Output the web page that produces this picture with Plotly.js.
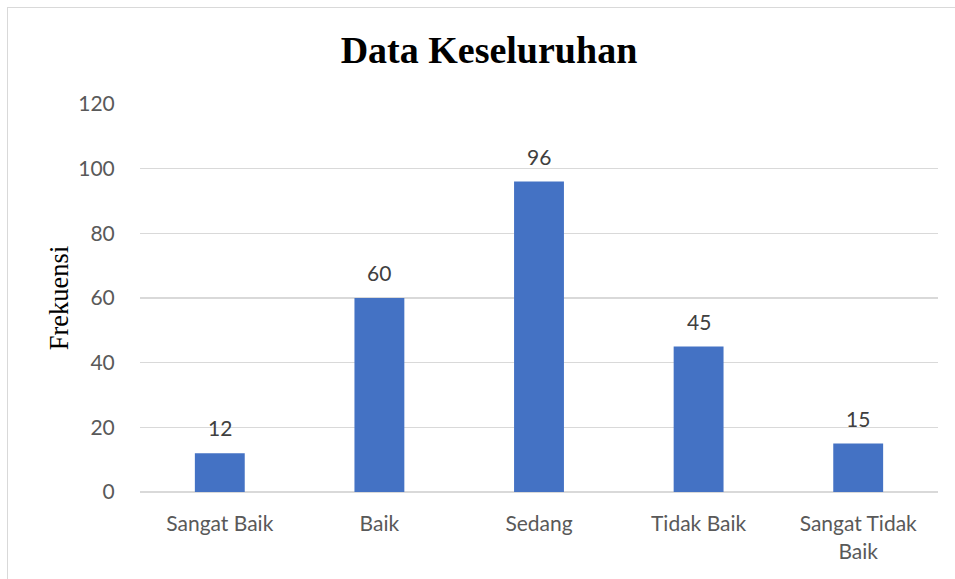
<!DOCTYPE html>
<html>
<head>
<meta charset="utf-8">
<script src="https://cdn.plot.ly/plotly-3.0.1.min.js"></script>
<style>
  html, body { margin: 0; padding: 0; background: #ffffff; }
  #wrap { position: relative; width: 955px; height: 579px; overflow: hidden; }
  #frame { position: absolute; left: 7px; top: 7px; width: 960px; height: 600px; border: 1px solid #d9d9d9; box-sizing: border-box; }
  #chart { position: absolute; left: 0; top: 0; width: 955px; height: 579px; }
</style>
</head>
<body>
<div id="wrap">
  <div id="frame"></div>
  <div id="chart"></div>
</div>
<script>
const categories = ["Sangat Baik", "Baik", "Sedang", "Tidak Baik", "Sangat Tidak<br>Baik"];
const values = [12, 60, 96, 45, 15];
const yTicks = [0, 20, 40, 60, 80, 100, 120];

const labelFont = { family: "Lato, 'Open Sans', sans-serif", size: 21, color: "#404040" };

const annotations = categories.map((c, i) => ({
  x: c, y: values[i], xref: "x", yref: "y",
  text: String(values[i]), showarrow: false,
  yanchor: "bottom", yshift: 11,
  font: labelFont
}));

Plotly.newPlot("chart", [{
  type: "bar",
  x: categories,
  y: values,
  marker: { color: "#4472C4" },
  hoverinfo: "none"
}], {
  width: 955, height: 579,
  margin: { l: 140, r: 17, t: 104, b: 87 },
  paper_bgcolor: "rgba(0,0,0,0)",
  plot_bgcolor: "rgba(0,0,0,0)",
  bargap: 0.6875,
  showlegend: false,
  title: {
    text: "<b>Data Keseluruhan</b>",
    font: { family: "'Liberation Serif', 'Times New Roman', serif", size: 38, color: "#000000" },
    x: 0.512, xanchor: "center", y: 0.915, yanchor: "middle"
  },
  xaxis: {
    type: "category",
    tickfont: { family: "Lato, 'Open Sans', sans-serif", size: 21, color: "#595959" },
    ticks: "outside", ticklen: 13, tickcolor: "rgba(0,0,0,0)",
    showline: false, showgrid: false, zeroline: false
  },
  yaxis: {
    range: [0, 120],
    tickvals: yTicks,
    ticktext: yTicks.map(String),
    tickfont: { family: "Lato, 'Open Sans', sans-serif", size: 21, color: "#595959" },
    ticks: "outside", ticklen: 20, tickcolor: "rgba(0,0,0,0)",
    showgrid: true, gridcolor: "#d9d9d9", gridwidth: 1.5,
    zeroline: true, zerolinecolor: "#d9d9d9", zerolinewidth: 1.5,
    showline: false,
    title: {
      text: "Frekuensi",
      font: { family: "'Liberation Serif', 'Times New Roman', serif", size: 26.5, color: "#000000" },
      standoff: 1
    }
  },
  annotations: annotations
}, { staticPlot: true, displayModeBar: false });
</script>
</body>
</html>
